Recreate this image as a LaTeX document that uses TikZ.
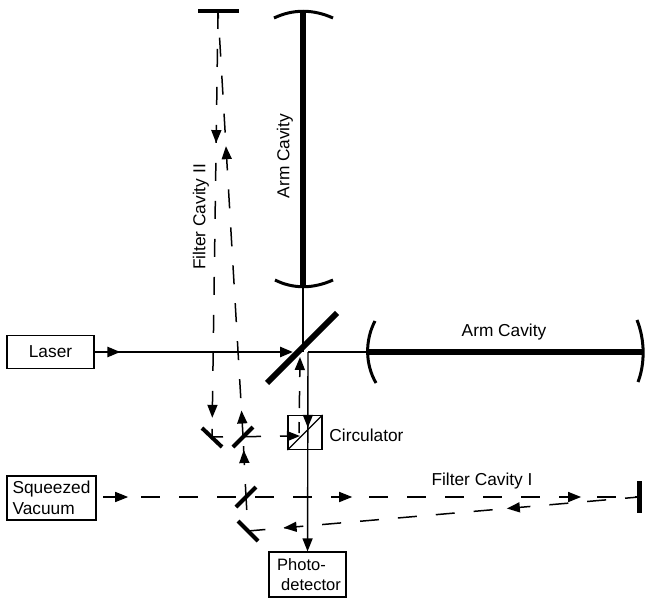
\documentclass[tikz,border=0pt]{standalone}
\usepackage{fontspec}
\setmainfont{Liberation Sans}
\usetikzlibrary{arrows.meta, decorations.markings}

\tikzset{
    box/.style={draw, line width=1.2pt, inner sep=0pt},
    lbl/.style={inner sep=0pt},
    mirror/.style={line width=4pt},
    curved/.style={line width=3pt},
    arm/.style={line width=6.5pt},
    thinray/.style={line width=1.4pt},
    beam/.style={line width=1.5pt, dash pattern=on 19pt off 19pt},
    tipat/.style={postaction={decorate, decoration={markings, mark=at position #1 with {\arrow{Triangle[length=13pt, width=10pt]}}}}},
    >={Triangle[length=13pt, width=10pt]}
}

\begin{document}
\begin{tikzpicture}[
    x=1pt,
    y=-1pt,
    every node/.append style={font=\fontsize{17.3}{20.5}\selectfont}
]
   \useasboundingbox (0,0) rectangle (645,599);

   % Boxes
   \node[box, minimum width=87pt, minimum height=33pt] (laser) at (50.5,352) {Laser};
   \node[box, minimum width=89pt, minimum height=44pt, align=left] (vacuum) at (51.5,498) {Squeezed\\Vacuum};
   \node[box, minimum width=34pt, minimum height=34pt] (circ) at (305,432.5) {};
   \node[box, minimum width=77pt, minimum height=45pt, align=left, font=\fontsize{16.5}{20.5}\selectfont] (photo) at (307.5,574.5) {\hspace*{3pt}Photo-\\\hspace*{7pt}detector};

   % Labels
   \node[lbl] (circlabel) at (366.5,435) {Circulator};
   \node[lbl] (armxlabel) at (504,332) {Arm Cavity};
   \node[lbl, rotate=90] (armylabel) at (285,156) {Arm Cavity};
   \node[lbl] (filterilabel) at (482,481) {Filter Cavity I};
   \node[lbl, rotate=90] (filteriilabel) at (201,217) {Filter Cavity II};

   % Points on the beams
   \coordinate (bs) at (303,352);
   \coordinate (bsexit) at (308,352);
   \coordinate (armytop) at (303,11);
   \coordinate (armybot) at (303,286);
   \coordinate (armxleft) at (368,352);
   \coordinate (armxright) at (642,352);
   \coordinate (mtop) at (218,11);
   \coordinate (mend) at (639,497);
   \coordinate (mleft) at (212,437);
   \coordinate (mright) at (243,436);
   \coordinate (msplit) at (246,497);
   \coordinate (mlow) at (248,531);

   % Mirrors and beam splitter
   \draw[line width=6pt] (267,383) -- (337,313);
   \draw[mirror] (198,11) -- (239,11);
   \draw[mirror] (202,428) -- (222,447);
   \draw[mirror] (233,447) -- (253,427);
   \draw[mirror] (236,507) -- (256,487);
   \draw[mirror] (238,521) -- (258,541);
   \draw[mirror, line width=5pt] (639,481) -- (639,513);
   \draw[curved] (274,18) .. controls (293,9) and (313,9) .. (333,18);
   \draw[curved] (275,280) .. controls (293,289) and (313,289) .. (333,280);
   \draw[curved] (375,321) .. controls (365,340) and (365,364) .. (376,383);
   \draw[curved] (637,320) .. controls (645,340) and (645,364) .. (638,382);

   % Arm cavities
   \draw[arm] (armytop) -- (armybot);
   \draw[arm] (armxleft) -- (armxright);
   \draw[thinray] (armybot) -- (bs);
   \draw[thinray] (bsexit) -- (armxleft);

   % Laser and read-out path
   \draw[line width=2.5pt, tipat=0.13, ->] (laser) -- (293,352);
   \draw[thinray, tipat=0.38, ->] (bsexit) -- (photo);
   \draw[line width=1.2pt] (circ.south west) -- (circ.north east);

   % Squeezed beam to Filter Cavity I and back
   \draw[beam, tipat=0.047, tipat=0.465, tipat=0.892] (103,497) -- (mend);
   \draw[beam, dash phase=5pt, tipat=0.338, tipat=0.909] (mend) -- (mlow);
   \draw[beam, dash phase=6pt] (msplit) -- (mlow);

   % Filter Cavity II
   \draw[beam, dash phase=6pt, tipat=0.77] (msplit) -- (mright);
   \draw[beam, tipat=0.06, tipat=0.682] (mright) -- (mtop);
   \draw[beam, dash pattern=on 18pt off 20pt, dash phase=0pt, tipat=0.31, tipat=0.955] (mtop) -- (mleft);
   \draw[beam, dash phase=8pt, ->] (mleft) -- (300,436);
   \draw[beam, dash pattern=on 17pt off 14pt, dash phase=6pt, ->] (299,433) -- (300,357);

\end{tikzpicture}
\end{document}
